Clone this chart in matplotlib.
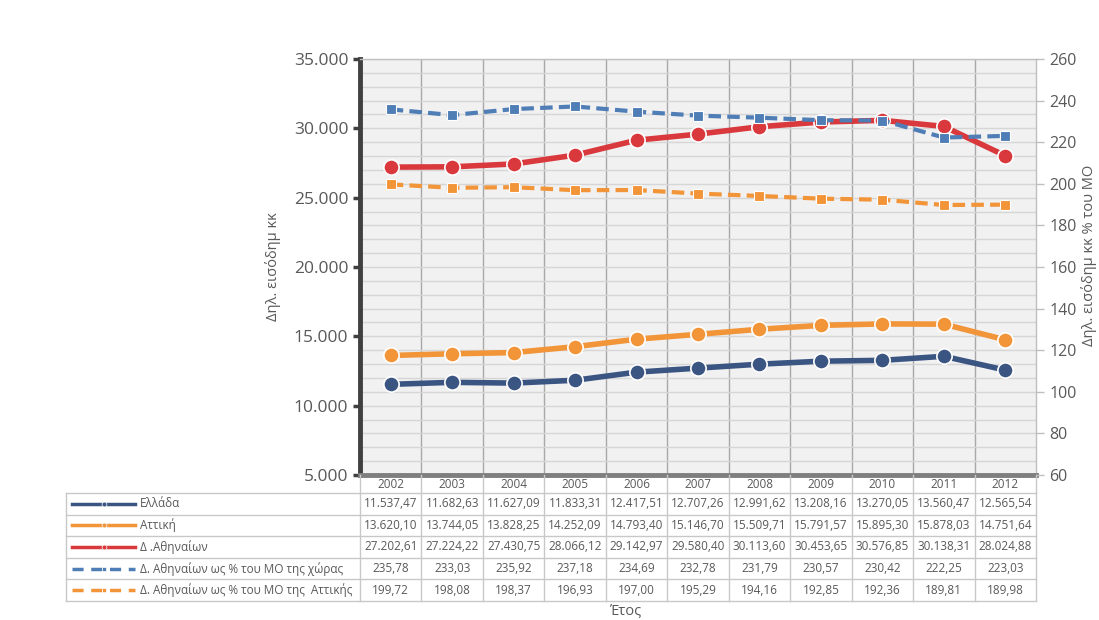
import matplotlib.pyplot as plt
from matplotlib.lines import Line2D

plt.rcParams["font.family"] = ["Open Sans", "DejaVu Sans"]

years = [2002, 2003, 2004, 2005, 2006, 2007, 2008, 2009, 2010, 2011, 2012]

ellada = [11537.47, 11682.63, 11627.09, 11833.31, 12417.51, 12707.26,
          12991.62, 13208.16, 13270.05, 13560.47, 12565.54]
attiki = [13620.10, 13744.05, 13828.25, 14252.09, 14793.40, 15146.70,
          15509.71, 15791.57, 15895.30, 15878.03, 14751.64]
athina = [27202.61, 27224.22, 27430.75, 28066.12, 29142.97, 29580.40,
          30113.60, 30453.65, 30576.85, 30138.31, 28024.88]
pct_xwra = [235.78, 233.03, 235.92, 237.18, 234.69, 232.78,
            231.79, 230.57, 230.42, 222.25, 223.03]
pct_attiki = [199.72, 198.08, 198.37, 196.93, 197.00, 195.29,
              194.16, 192.85, 192.36, 189.81, 189.98]

labels = ["Ελλάδα", "Αττική", "Δ .Αθηναίων",
          "Δ. Αθηναίων ως % του ΜΟ της χώρας",
          "Δ. Αθηναίων ως % του ΜΟ της  Αττικής"]

TXT = "#595959"
C_ELL = "#3b5583"
C_ATT = "#f29438"
C_ATH = "#d9383c"
C_PX = "#4f7db5"
C_PA = "#f29438"

W, H = 1099, 620
L, R, T, B = 360, 1036, 59, 475


def fx(px):
    return px / W


def fy(py):
    return 1 - py / H


def gr(v, dec=2):
    s = f"{v:,.{dec}f}"
    return s.replace(",", "X").replace(".", ",").replace("X", ".")


fig = plt.figure(figsize=(W / 100, H / 100), dpi=100)
ax = fig.add_axes([fx(L), fy(B), fx(R - L), (B - T) / H])
ax2 = ax.twinx()

x = list(range(len(years)))
ax.set_xlim(-0.5, len(years) - 0.5)
ax.set_ylim(5000, 35000)
ax2.set_ylim(60, 260)

ax.set_facecolor("#f1f1f1")
ax.set_yticks(range(5000, 35001, 5000))
ax.set_yticks(range(5000, 35001, 1000), minor=True)
ax.set_yticklabels([gr(v, 0) for v in range(5000, 35001, 5000)])
ax.grid(which="both", axis="y", color="#d6d6d6", lw=1)
ax.set_xticks([i + 0.5 for i in x[:-1]])
ax.set_xticklabels([])
ax.grid(axis="x", color="#a8a8a8", lw=1)
ax.tick_params(axis="x", length=0)
ax.tick_params(axis="y", which="major", colors="#404040", length=5, width=2.5,
               labelsize=12.5, labelcolor=TXT)
ax.tick_params(axis="y", which="minor", length=0)
ax.set_axisbelow(True)

for s in ["top", "right"]:
    ax.spines[s].set_color("#bfbfbf")
    ax.spines[s].set_linewidth(1)
ax.spines["left"].set_color("#404040")
ax.spines["left"].set_linewidth(3.5)
ax.spines["bottom"].set_color("#7f7f7f")
ax.spines["bottom"].set_linewidth(3.5)
for s in ax2.spines.values():
    s.set_visible(False)

ax2.set_yticks(range(60, 261, 20))
ax2.tick_params(axis="y", colors="#bfbfbf", length=6, width=1,
                labelsize=11.5, labelcolor=TXT)

ax.set_ylabel("Δηλ. εισόδημ κκ", color=TXT, fontsize=10.5, labelpad=9)
fig.text(fx(1089), fy(255), "Δηλ. εισόδημ κκ % του ΜΟ", rotation=90,
         ha="center", va="center", color=TXT, fontsize=10.5)

solid = dict(lw=4, marker="o", ms=11, mec="white", mew=1.2, solid_capstyle="round")
dashed = dict(lw=3, ls=(0, (3, 1.5)), marker="s", ms=7.5, mec="white", mew=0.8)

ax.plot(x, ellada, color=C_ELL, **solid, zorder=4)
ax.plot(x, attiki, color=C_ATT, **solid, zorder=4)
ax.plot(x, athina, color=C_ATH, **solid, zorder=5)
ax2.plot(x, pct_xwra, color=C_PX, **dashed, zorder=3)
ax2.plot(x, pct_attiki, color=C_PA, **dashed, zorder=3)
ax2.patch.set_visible(False)

# data table below the plot
tab_l = 66
col_w = (R - L) / len(years)
head_top, head_bot = B, 493
row_h = 21.6
line_c = "#c8c8c8"

rows = [ellada, attiki, athina, pct_xwra, pct_attiki]
colors = [C_ELL, C_ATT, C_ATH, C_PX, C_PA]
n = len(rows)
tab_bot = head_bot + n * row_h


def hline(y, x0, x1):
    fig.add_artist(Line2D([fx(x0), fx(x1)], [fy(y), fy(y)], color=line_c, lw=1))


def vline(xp, y0, y1):
    fig.add_artist(Line2D([fx(xp), fx(xp)], [fy(y0), fy(y1)], color=line_c, lw=1))


for i, yr in enumerate(years):
    cx = L + col_w * (i + 0.5)
    fig.text(fx(cx), fy((head_top + head_bot) / 2 + 1), str(yr), ha="center",
             va="center", color=TXT, fontsize=8.5)
for k in range(len(years) + 1):
    vline(L + col_w * k, head_top, tab_bot)
vline(tab_l, head_bot, tab_bot)
for r in range(n + 1):
    hline(head_bot + r * row_h, tab_l, R)

for r, (vals, lab, c) in enumerate(zip(rows, labels, colors)):
    cy = head_bot + (r + 0.5) * row_h
    for i, v in enumerate(vals):
        cx = L + col_w * (i + 0.5)
        fig.text(fx(cx), fy(cy), gr(v), ha="center", va="center",
                 color=TXT, fontsize=8.5)
    if r < 3:
        fig.add_artist(Line2D([fx(72), fx(135)], [fy(cy), fy(cy)], color=c, lw=2.5))
        fig.add_artist(Line2D([fx(103.5)], [fy(cy)], color=c, marker="o", ms=3.5,
                              mec="white", mew=0.5))
    else:
        fig.add_artist(Line2D([fx(72), fx(135)], [fy(cy), fy(cy)], color=c, lw=2.5,
                              ls=(0, (3.2, 2.2))))
        fig.add_artist(Line2D([fx(103.5)], [fy(cy)], color=c, marker="s", ms=3.5,
                              mec="white", mew=0.5))
    fig.text(fx(140), fy(cy), lab, ha="left", va="center", color=TXT, fontsize=8.5)

fig.text(fx(626), fy(612), "Έτος", ha="center", va="center", color=TXT, fontsize=10.5)

fig.savefig("out.png", dpi=100, facecolor="white")
